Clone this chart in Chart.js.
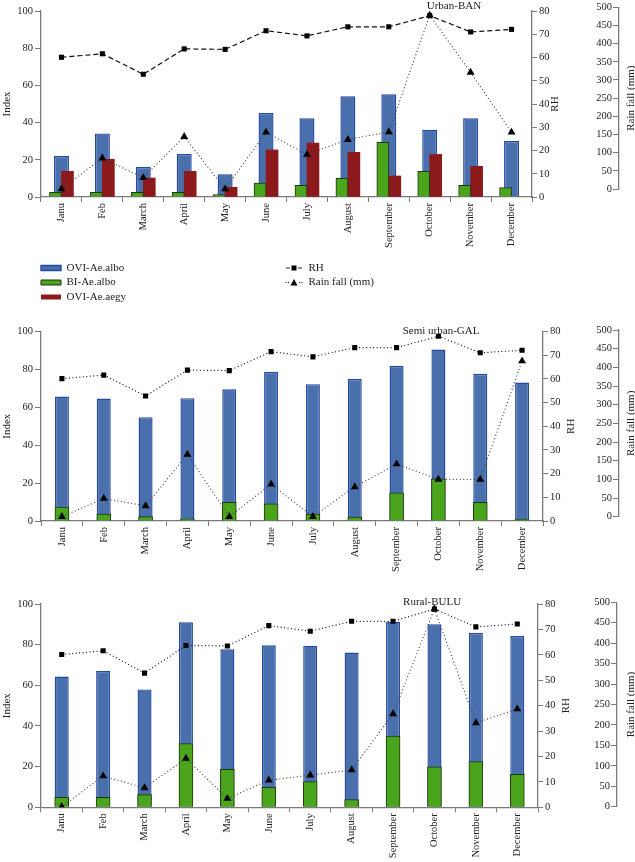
<!DOCTYPE html>
<html>
<head>
<meta charset="utf-8">
<title>OVI / BI index, RH and rain fall</title>
<script src="https://cdn.jsdelivr.net/npm/chart.js@4.4.1/dist/chart.umd.min.js"></script>
<style>
    body { margin: 0; background: #fff; width: 635px; height: 862px; position: relative; overflow: hidden; }
    canvas { position: absolute; }
</style>
</head>
<body>
<canvas id="main1" width="562" height="255" style="left:0;top:0"></canvas>
<canvas id="rain1" width="55" height="255" style="left:580px;top:0"></canvas>
<canvas id="legendBars" width="240" height="70" style="left:0;top:250px"></canvas>
<canvas id="legendLines" width="300" height="70" style="left:240px;top:250px"></canvas>
<canvas id="main2" width="577" height="282" style="left:0;top:305px"></canvas>
<canvas id="rain2" width="55" height="282" style="left:580px;top:305px"></canvas>
<canvas id="main3" width="572" height="275" style="left:0;top:587px"></canvas>
<canvas id="rain3" width="55" height="275" style="left:580px;top:587px"></canvas>

<script>
// Werte
const months = ['Janu', 'Feb', 'March', 'April', 'May', 'June', 'July', 'August', 'September', 'October', 'November', 'December'];
const rhValues = [60.1, 61.6, 52.8, 63.7, 63.5, 71.5, 69.3, 73.2, 73.2, 78.0, 71.0, 72.1];

// Urban-BAN
const banOviAlbo = [22.0, 34.2, 16.1, 23.1, 12.2, 45.2, 42.3, 54.1, 55.2, 36.2, 42.3, 30.1];
const banBiAlbo = [2.5, 2.5, 2.5, 2.5, 1.3, 7.5, 6.3, 10.0, 29.4, 13.8, 6.3, 5.0];
const banOviAegy = [13.8, 20.3, 10.2, 13.8, 5.2, 25.3, 29.0, 24.0, 11.3, 22.9, 16.5, null];
const banRain = [0, 85, 31, 144, 0, 156, 95, 136, 157, 478, 321, 156];

// Semi urban-GAL
const galOviAlbo = [65.7, 64.6, 54.8, 64.8, 69.5, 78.7, 72.2, 74.9, 81.9, 90.5, 77.7, 73.1];
const galBiAlbo = [7.4, 3.7, 2.3, 1.2, 9.9, 9.0, 3.6, 2.1, 14.8, 22.3, 9.8, 1.0];
const galRain = [0, 49, 29, 167, 0, 87, 0, 80, 141, 100, 100, 417];

// Rural-BULU
const buluOviAlbo = [64.3, 67.0, 58.0, 91.0, 77.7, 79.7, 79.5, 76.1, 91.3, 90.0, 85.8, 84.2];
const buluBiAlbo = [4.9, 4.9, 6.2, 31.3, 18.7, 9.8, 12.6, 3.8, 35.0, 19.9, 22.5, 16.2];
const buluRain = [0, 75, 46, 118, 20, 65, 77, 90, 227, 484, 205, 239];

Chart.defaults.font.family = "'Liberation Serif', 'DejaVu Serif', serif";
Chart.defaults.font.size = 10.5;
Chart.defaults.color = '#222';

const axisGrey = '#7a7a7a';
const blueFill = '#4a6fad', blueLine = '#2449a0';
const greenFill = '#4ba51c', greenLine = '#1f3512';
const redFill = '#8c1a1c';

// vertical text reading upwards (RH, Rain fall)
function upTitle(text, x, scaleId) {
    return {
        id: 'upTitle',
        afterDraw(chart) {
            const s = chart.scales[scaleId];
            const ctx = chart.ctx;
            ctx.save();
            ctx.font = "11px 'Liberation Serif'";
            ctx.fillStyle = '#222';
            ctx.textAlign = 'center';
            ctx.textBaseline = 'middle';
            ctx.translate(x, (s.top + s.bottom) / 2);
            ctx.rotate(-Math.PI / 2);
            ctx.fillText(text, 0, 0);
            ctx.restore();
        }
    };
}

// site name near the top right of the plot
function siteName(text, frac, y) {
    return {
        id: 'siteName',
        afterDraw(chart) {
            const a = chart.chartArea;
            const ctx = chart.ctx;
            ctx.save();
            ctx.font = "11px 'Liberation Serif'";
            ctx.fillStyle = '#222';
            ctx.textAlign = 'center';
            ctx.textBaseline = 'middle';
            ctx.fillText(text, a.left + frac * (a.right - a.left), y);
            ctx.restore();
        }
    };
}

function buildPanel(p) {
    // Rain fall axis sits in its own canvas (labels left of the line, title right of it)
    const rainChart = new Chart(document.getElementById(p.rainId), {
        type: 'bar',
        data: { labels: [], datasets: [] },
        options: {
            responsive: false,
            animation: false,
            layout: { padding: { top: p.rainTop, bottom: p.rainBottom, left: 0, right: 0 } },
            plugins: { legend: { display: false }, tooltip: { enabled: false } },
            scales: {
                x: { display: false },
                y: {
                    position: 'left', min: 0, max: 500,
                    ticks: { stepSize: 50, padding: 1 },
                    grid: { drawOnChartArea: false, tickLength: 6, color: axisGrey },
                    border: { color: axisGrey, width: 1.3 },
                    afterFit: s => { s.width = p.rainAxisW; }
                }
            }
        },
        plugins: [upTitle('Rain fall (mm)', 51, 'y')]
    });

    const datasets = [
        {
            type: 'line', label: 'RH', data: rhValues, yAxisID: 'yRH',
            borderColor: '#111', borderWidth: 1.2, borderDash: p.rhDash,
            pointStyle: 'rect', pointRadius: 3.6, pointBackgroundColor: '#000', pointBorderWidth: 0,
            tension: 0, order: 0
        },
        {
            type: 'line', label: 'Rain fall (mm)', data: p.rain, yAxisID: 'yR',
            borderColor: '#444', borderWidth: 1.2, borderDash: [1, 2.5],
            pointStyle: 'triangle', pointRadius: 4.6, pointBackgroundColor: '#000', pointBorderWidth: 0,
            tension: 0, order: 1
        },
        {
            label: 'BI-Ae.albo', data: p.biAlbo, yAxisID: 'y',
            backgroundColor: greenFill, borderColor: greenLine, borderWidth: 1,
            barThickness: p.greenW, order: 2
        }
    ];
    if (p.oviAegy) {
        datasets.push({
            label: 'OVI-Ae.aegy', data: p.oviAegy, yAxisID: 'y',
            backgroundColor: redFill, borderWidth: 0, barThickness: p.greenW, order: 3
        });
    }
    // OVI-Ae.albo stands behind, centred on the month (not grouped)
    datasets.push({
        label: 'OVI-Ae.albo', data: p.oviAlbo, yAxisID: 'y',
        backgroundColor: blueFill, borderColor: blueLine, borderWidth: 1.4,
        grouped: false, maxBarThickness: p.blueW, order: 4
    });

    const chart = new Chart(document.getElementById(p.mainId), {
        type: 'bar',
        data: { labels: months, datasets: datasets },
        options: {
            responsive: false,
            animation: false,
            layout: { padding: { top: p.padTop, bottom: 0, left: 0, right: 0 } },
            plugins: { legend: { display: false }, tooltip: { enabled: false } },
            scales: {
                x: {
                    type: 'category', offset: true,
                    grid: { offset: true, drawOnChartArea: false, tickLength: 5, color: axisGrey },
                    border: { color: axisGrey, width: 1.3 },
                    ticks: { minRotation: 90, maxRotation: 90, autoSkip: false, padding: 1 },
                    afterFit: s => { s.height = p.xHeight; }
                },
                y: {
                    position: 'left', min: 0, max: 100,
                    ticks: { stepSize: 20, padding: 2 },
                    grid: { drawOnChartArea: false, tickLength: 6, color: axisGrey },
                    border: { color: axisGrey, width: 1.3 },
                    title: { display: true, text: 'Index', font: { size: 11 }, padding: { top: 1, bottom: 0 } },
                    afterFit: s => { s.width = 41; }
                },
                yRH: {
                    position: 'right', min: 0, max: 80,
                    ticks: { stepSize: 10, padding: 2 },
                    grid: { drawOnChartArea: false, tickLength: 5, color: axisGrey },
                    border: { color: axisGrey, width: 1.3 },
                    afterFit: s => { s.width = p.rhAxisW; }
                },
                yR: { position: 'right', display: false, min: 0, max: 500 }
            }
        },
        plugins: [upTitle('RH', p.rhTitleX, 'yRH'), siteName(p.name, p.nameFrac, p.nameY)]
    });

    // hidden rain scale gets the same pixel mapping as the visible rain axis
    const rs = rainChart.scales.y;
    chart.options.scales.yR.min = rs.getValueForPixel(chart.chartArea.bottom);
    chart.options.scales.yR.max = rs.getValueForPixel(chart.chartArea.top);
    chart.update('none');
    return chart;
}

buildPanel({
    mainId: 'main1', rainId: 'rain1', name: 'Urban-BAN', nameFrac: 0.841, nameY: 6,
    oviAlbo: banOviAlbo, biAlbo: banBiAlbo, oviAegy: banOviAegy, rain: banRain,
    rhDash: [5, 3], blueW: 15, greenW: 12,
    padTop: 11, xHeight: 58, rhAxisW: 30, rhTitleX: 555,
    rainTop: 7, rainBottom: 66, rainAxisW: 39
});

buildPanel({
    mainId: 'main2', rainId: 'rain2', name: 'Semi urban-GAL', nameFrac: 0.797, nameY: 26.5,
    oviAlbo: galOviAlbo, biAlbo: galBiAlbo, rain: galRain,
    rhDash: [1, 2.5], blueW: 14, greenW: 14,
    padTop: 26.5, xHeight: 66, rhAxisW: 34, rhTitleX: 571,
    rainTop: 25, rainBottom: 70.3, rainAxisW: 39
});

buildPanel({
    mainId: 'main3', rainId: 'rain3', name: 'Rural-BULU', nameFrac: 0.787, nameY: 15,
    oviAlbo: buluOviAlbo, biAlbo: buluBiAlbo, rain: buluRain,
    rhDash: [1, 2.5], blueW: 14, greenW: 14,
    padTop: 17, xHeight: 54.7, rhAxisW: 34, rhTitleX: 566,
    rainTop: 15.3, rainBottom: 55.3, rainAxisW: 37
});

// Legende: Markierung aus Linie + Punkt
function lineMark(shape) {
    const c = document.createElement('canvas');
    c.width = 18;
    c.height = 9;
    const g = c.getContext('2d');
    g.strokeStyle = '#222';
    g.fillStyle = '#000';
    g.lineWidth = 1;
    if (shape === 'rect') {
        g.beginPath();
        g.moveTo(1, 4.5); g.lineTo(5, 4.5);
        g.moveTo(13, 4.5); g.lineTo(17, 4.5);
        g.stroke();
        g.fillRect(6.5, 2, 5, 5);
    } else {
        [1, 3.5, 14.5, 17].forEach(x => g.fillRect(x - 0.5, 4, 1, 1));
        g.beginPath();
        g.moveTo(9, 1); g.lineTo(12.5, 7.5); g.lineTo(5.5, 7.5);
        g.closePath();
        g.fill();
    }
    return c;
}

const legendBase = {
    responsive: false,
    animation: false,
    scales: { x: { display: false }, y: { display: false } },
    plugins: { tooltip: { enabled: false } }
};

new Chart(document.getElementById('legendBars'), {
    type: 'bar',
    data: {
        labels: [],
        datasets: [
            { label: 'OVI-Ae.albo', data: [], backgroundColor: blueFill, borderColor: blueLine, borderWidth: 1.4 },
            { label: 'BI-Ae.albo', data: [], backgroundColor: greenFill, borderColor: greenLine, borderWidth: 1 },
            { label: 'OVI-Ae.aegy', data: [], backgroundColor: redFill, borderWidth: 0 }
        ]
    },
    options: {
        ...legendBase,
        layout: { padding: { left: 37.5, top: 9 } },
        plugins: {
            ...legendBase.plugins,
            legend: {
                position: 'left', align: 'start',
                labels: { boxWidth: 20, boxHeight: 5, padding: 3.5, font: { size: 11 } }
            }
        }
    }
});

new Chart(document.getElementById('legendLines'), {
    type: 'line',
    data: {
        labels: [],
        datasets: [
            { label: 'RH', data: [], pointStyle: lineMark('rect'), borderColor: '#222' },
            { label: 'Rain fall (mm)', data: [], pointStyle: lineMark('triangle'), borderColor: '#222' }
        ]
    },
    options: {
        ...legendBase,
        layout: { padding: { left: 41.5, top: 9 } },
        plugins: {
            ...legendBase.plugins,
            legend: {
                position: 'left', align: 'start',
                labels: { usePointStyle: true, pointStyleWidth: 18, padding: 3.5, font: { size: 11 } }
            }
        }
    }
});
</script>
</body>
</html>
